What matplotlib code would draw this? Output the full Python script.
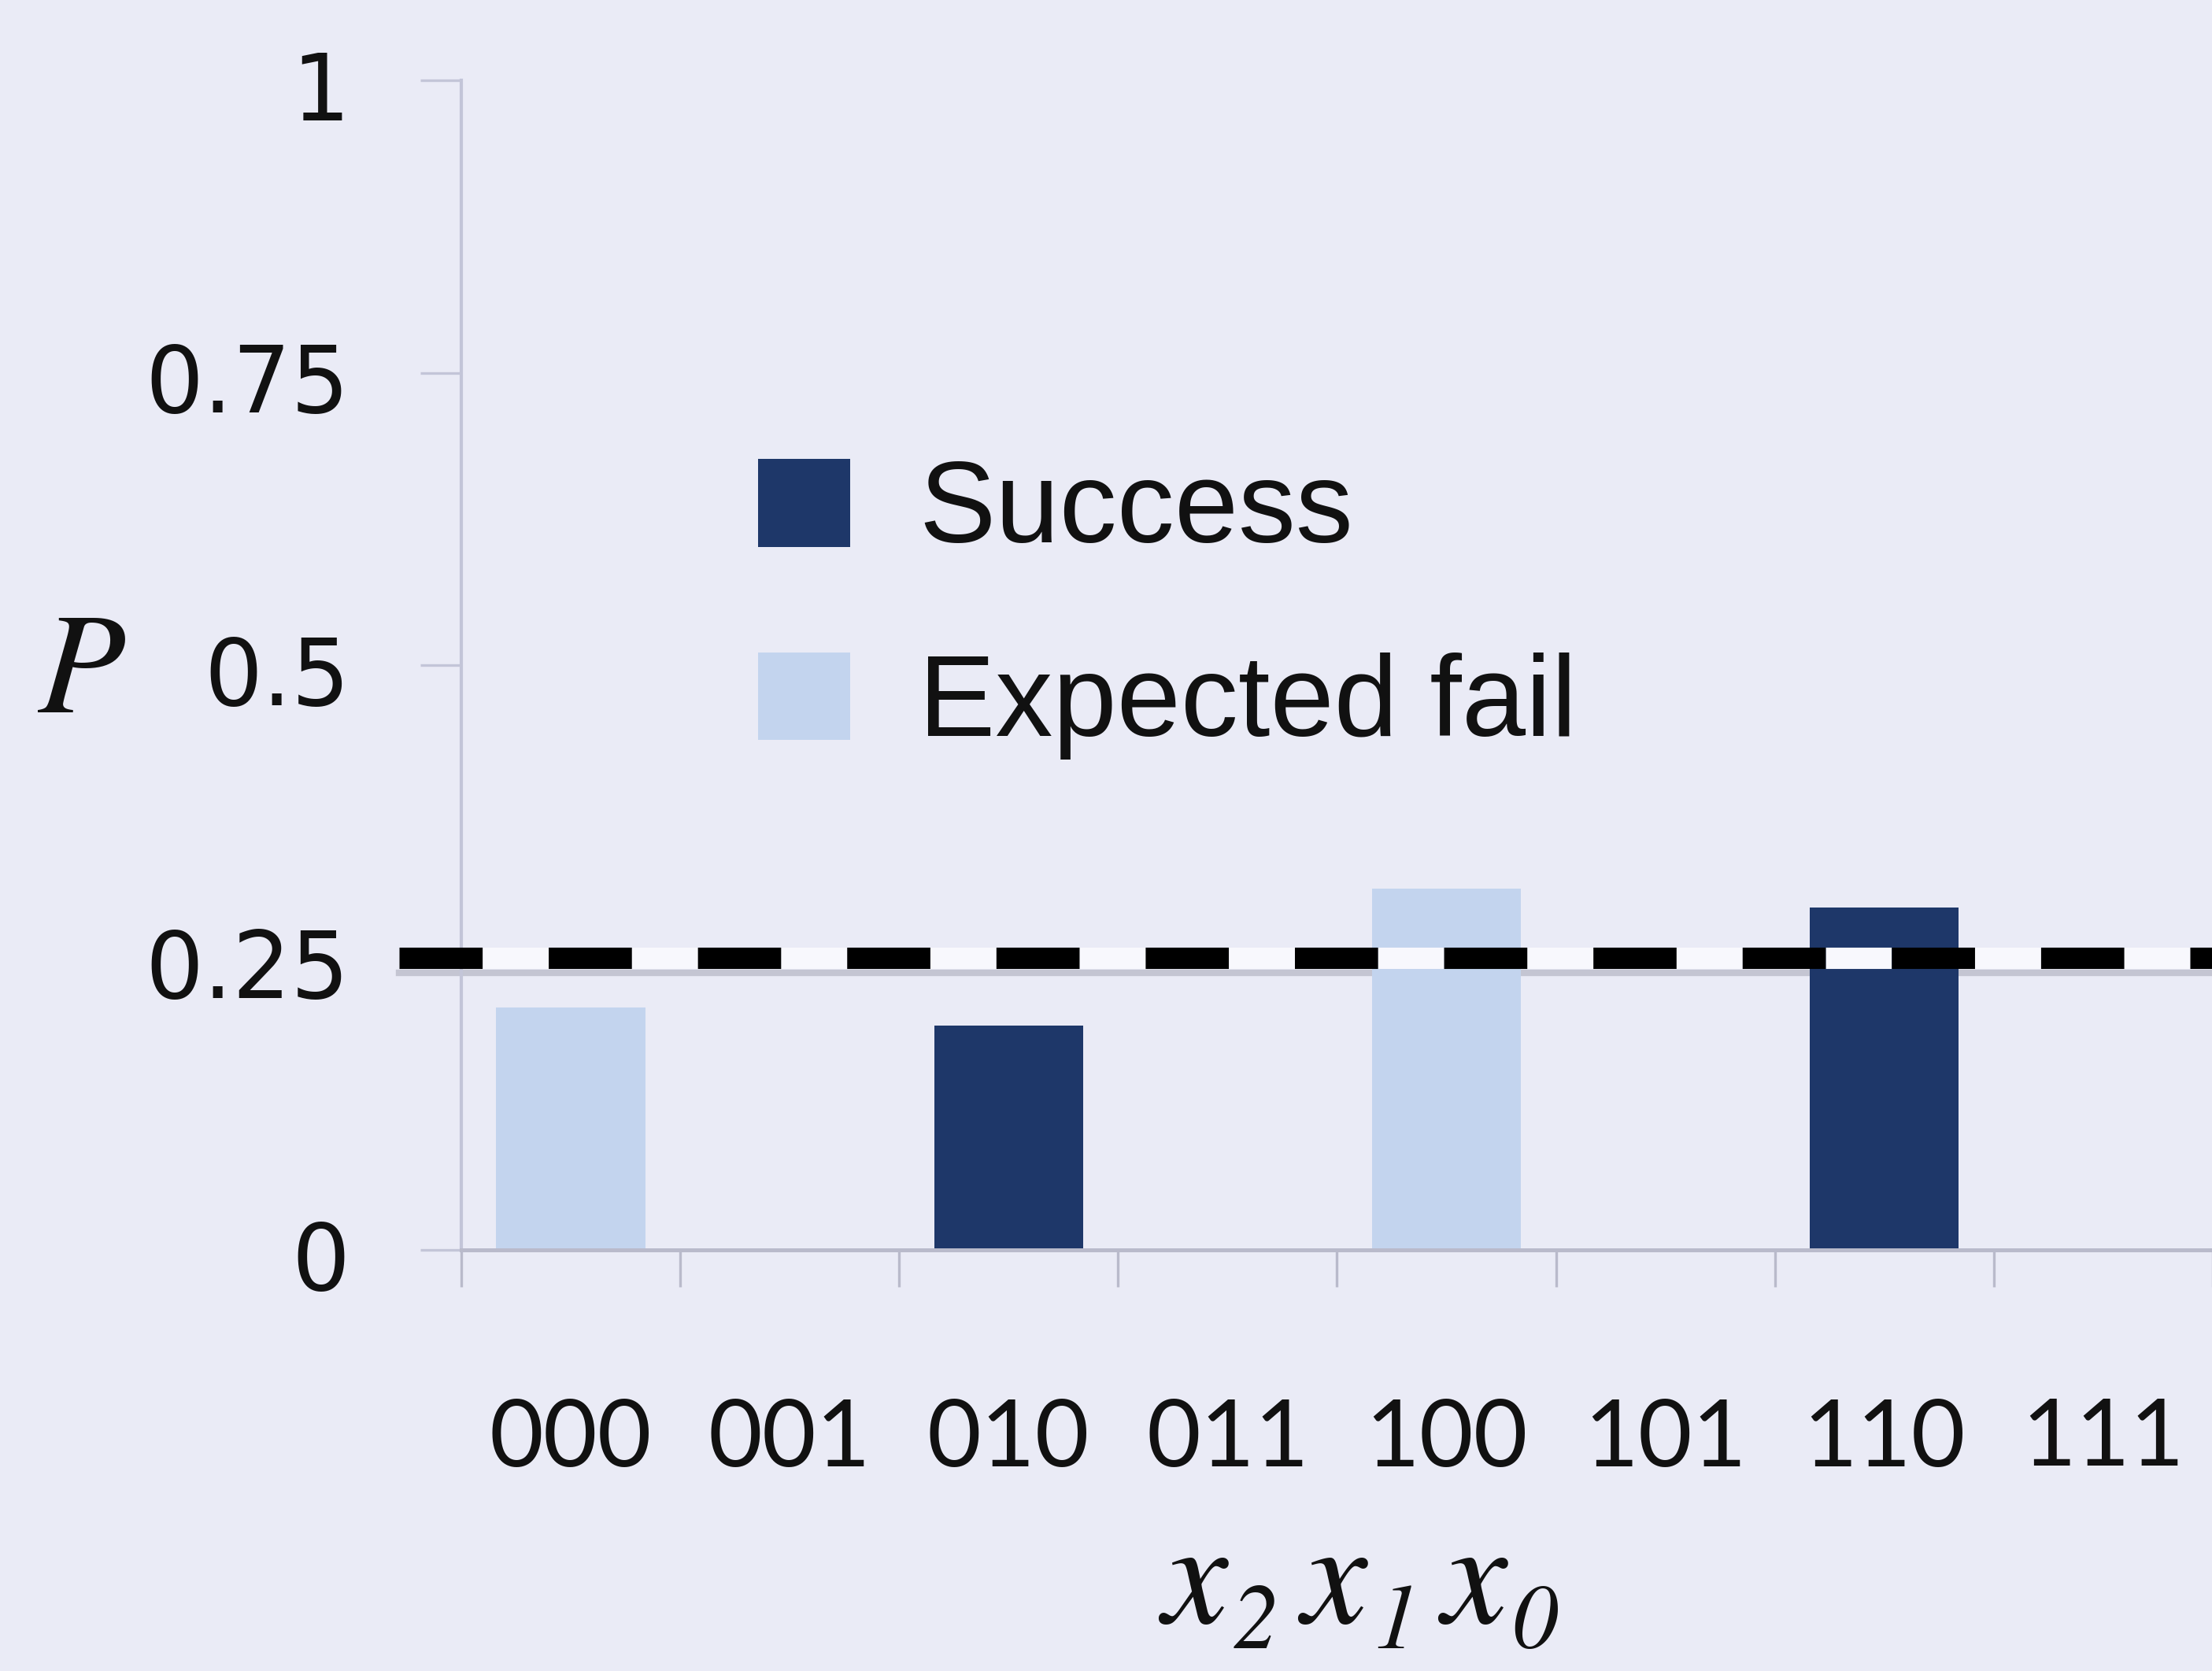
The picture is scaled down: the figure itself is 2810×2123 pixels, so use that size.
import numpy as np
import matplotlib
matplotlib.use('Agg')
import matplotlib.pyplot as plt
import matplotlib.transforms as mtransforms
from matplotlib.patches import Patch

# ---- data ----
categories = ['000', '001', '010', '011', '100', '101', '110', '111']
success = [0, 0, 0.192, 0, 0, 0, 0.293, 0]
expected_fail = [0.207, 0, 0, 0, 0.309, 0, 0, 0]
threshold = 0.25
yticks = [0, 0.25, 0.5, 0.75, 1]
ytick_labels = ['0', '0.25', '0.5', '0.75', '1']
legend_labels = ['Success', 'Expected fail']
xlabel_vars = ['x', 'x', 'x']
xlabel_subs = ['2', '1', '0']

# ---- style ----
bg = '#eaebf6'
dark = '#1e3769'
light = '#c3d4ee'
spine_c = '#c3c5d8'
plt.rcParams['mathtext.fontset'] = 'custom'
plt.rcParams['mathtext.it'] = 'STIXGeneral:italic'
plt.rcParams['mathtext.rm'] = 'STIXGeneral:italic'
plt.rcParams['mathtext.bf'] = 'STIXGeneral:bold'

W, H, DPI = 2811, 2123, 300
fig = plt.figure(figsize=(W / DPI, H / DPI), dpi=DPI)
fig.patch.set_facecolor(bg)
ax = fig.add_axes([586 / W, 1 - 1588 / H, 1 - 586 / W, (1588 - 102) / H])
ax.set_facecolor(bg)

x = np.arange(len(categories))
bw = 0.68
ax.bar(x, expected_fail, width=bw, color=light, edgecolor='none', zorder=2)
ax.bar(x, success, width=bw, color=dark, edgecolor='none', zorder=2)

# threshold line (with faint shadow below)
ax.plot([-0.784, 7.6], [threshold - 0.013, threshold - 0.013], color='#c4c5d2',
        lw=2.0, clip_on=False, zorder=1)
ax.plot([-0.784, 7.6], [threshold, threshold], color='black', lw=6.5,
        linestyle=(0, (3.9, 3.1)), gapcolor='#f8f8fd', dash_capstyle='butt',
        clip_on=False, zorder=5)

ax.set_xlim(-0.5, 7.5)
ax.set_ylim(0, 1)

for s in ['top', 'right']:
    ax.spines[s].set_visible(False)
ax.spines['left'].set_color(spine_c)
ax.spines['left'].set_linewidth(1.0)
ax.spines['bottom'].set_color('#b9bacb')
ax.spines['bottom'].set_linewidth(1.2)

ax.set_xticks(np.arange(-0.5, 8, 1))
ax.set_xticklabels([])
ax.set_xticks(x, minor=True)
ax.set_xticklabels(categories, minor=True, fontfamily='Lato', fontsize=28.5)
ax.tick_params(axis='x', which='major', length=11.3, width=0.8, color='#b9bacb')
ax.tick_params(axis='x', which='minor', length=0, pad=45, labelcolor='#111111')

ax.set_yticks(yticks)
ax.set_yticklabels(ytick_labels, fontfamily='DejaVu Sans', fontsize=28)
ax.tick_params(axis='y', length=12.5, width=0.8, color=spine_c, pad=21.5,
               labelcolor='#111111')
off = mtransforms.ScaledTranslation(0, -6 / DPI, fig.dpi_scale_trans)
for lab in ax.get_yticklabels():
    lab.set_transform(lab.get_transform() + off)

# y label
fig.text(103 / W, 1 - 905 / H, r'$P$', ha='center', va='baseline', fontsize=44,
         color='#111111')

# x label: x_2 x_1 x_0 (italic variables with italic, dropped subscripts)
var_left = [1476, 1653, 1831]
sub_left = [1566, 1744, 1920]
for v, s, vl, sl in zip(xlabel_vars, xlabel_subs, var_left, sub_left):
    fig.text(vl / W, 1 - 2062 / H, v, family='STIXGeneral', style='italic',
             fontsize=45, ha='left', va='baseline', color='#111111')
    fig.text(sl / W, 1 - 2094 / H, s, family='STIXGeneral', style='italic',
             fontsize=28, ha='left', va='baseline', color='#111111')

# legend
handles = [Patch(facecolor=dark, edgecolor='none'), Patch(facecolor=light, edgecolor='none')]
leg = fig.legend(handles, legend_labels, loc='upper left',
                 bbox_to_anchor=(963 / W, 1 - 583 / H), frameon=False,
                 prop={'family': 'Liberation Sans', 'size': 35},
                 handlelength=0.8, handleheight=0.8, handletextpad=0.6,
                 labelspacing=0.75, borderpad=0, borderaxespad=0)
for t in leg.get_texts():
    t.set_color('#111111')

fig.savefig('out.png', dpi=DPI, facecolor=bg)
